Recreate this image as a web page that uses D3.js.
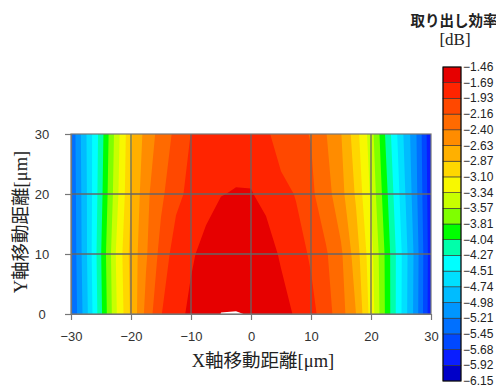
<!DOCTYPE html>
<html>
<head>
<meta charset="utf-8">
<script src="https://cdnjs.cloudflare.com/ajax/libs/d3/7.8.5/d3.min.js"></script>
<style>
  body { margin: 0; background: #fff; }
  text { font-family: "Liberation Sans", Arial, sans-serif; }
</style>
</head>
<body>
<div id="chart"></div>
<script>
// grid of the measurement (x step 2.5 um, y step 10 um)
const xs = [-30, -27.5, -25, -22.5, -20, -17.5, -15, -12.5, -10, -7.5, -5, -2.5, 0,
            2.5, 5, 7.5, 10, 12.5, 15, 17.5, 20, 22.5, 25, 27.5, 30];
const ys = [0, 10, 20, 30];

// extraction efficiency [dB], one row per y
const row0  = [-5.47, -4.83, -4.09, -3.37, -2.83, -2.33, -1.94, -1.77, -1.64, -1.56, -1.457, -1.456, -1.464,
               -1.53, -1.61, -1.715, -1.857, -2.053, -2.305, -2.63, -3.194, -3.861, -4.49, -5.10, -5.85];
const row10 = [-5.44, -4.79, -4.05, -3.33, -2.79, -2.43, -2.08, -1.82, -1.72, -1.62, -1.57, -1.54, -1.555,
               -1.60, -1.715, -1.832, -1.961, -2.133, -2.362, -2.75, -3.253, -3.87, -4.48, -5.08, -5.84];
const row20 = [-5.42, -4.78, -4.11, -3.43, -2.87, -2.46, -2.21, -1.99, -1.87, -1.766, -1.695, -1.68, -1.68,
               -1.7425, -1.85, -1.944, -2.113, -2.304, -2.55, -2.903, -3.378, -3.972, -4.573, -5.15, -5.86];
const row30 = [-5.40, -4.76, -4.148, -3.48, -2.90, -2.544, -2.308, -2.099, -1.925, -1.85, -1.80, -1.77, -1.79,
               -1.88, -2.06, -2.11, -2.17, -2.39, -2.62, -3.005, -3.462, -4.08, -4.656, -5.189, -5.88];

// contour levels (bottom to top) and band colours
const levels = [-6.15, -5.92, -5.68, -5.45, -5.21, -4.98, -4.74, -4.51, -4.27, -4.04, -3.81,
                -3.57, -3.34, -3.10, -2.87, -2.63, -2.40, -2.16, -1.93, -1.69, -1.46];
const colors = ["#0000c8", "#0a1eff", "#0048ff", "#0070ff", "#0096ff", "#00bcff", "#00e0ff",
                "#00ffff", "#00ffaa", "#00ff00", "#7fff00", "#c8ff00", "#f8f800", "#ffd700",
                "#ffb000", "#ff8c00", "#ff6a00", "#ff4800", "#ff2400", "#e60000"];

const xTicks = [-30, -20, -10, 0, 10, 20, 30];
const yTicks = [0, 10, 20, 30];

const W = 496, H = 389;
const plot = { left: 71, top: 134, width: 360, height: 180 };

const svg = d3.select("#chart").append("svg")
  .attr("width", W)
  .attr("height", H);

const x = d3.scaleLinear().domain([-30, 30]).range([plot.left, plot.left + plot.width]);
const y = d3.scaleLinear().domain([0, 30]).range([plot.top + plot.height, plot.top]);

svg.append("clipPath").attr("id", "clip")
  .append("rect")
  .attr("x", plot.left).attr("y", plot.top)
  .attr("width", plot.width).attr("height", plot.height);

// filled contours
const values = [].concat(row0, row10, row20, row30);
const gx = d3.scaleLinear().domain([0.5, xs.length - 0.5]).range([xs[0], xs[xs.length - 1]]);
const gy = d3.scaleLinear().domain([0.5, ys.length - 0.5]).range([ys[0], ys[ys.length - 1]]);
const proj = d3.geoTransform({
  point: function(px, py) { this.stream.point(x(gx(px)), y(gy(py))); }
});
const path = d3.geoPath(proj);

const contours = d3.contours()
  .size([xs.length, ys.length])
  .thresholds(levels)(values);

svg.append("g")
  .attr("clip-path", "url(#clip)")
  .selectAll("path")
  .data(contours)
  .enter().append("path")
  .attr("d", path)
  .attr("fill", (d, i) => i < colors.length ? colors[i] : "#ffffff");

// grid
const grid = svg.append("g").attr("stroke", "#666").attr("stroke-width", 1.3);
grid.selectAll(".gx").data(xTicks.slice(1, -1)).enter().append("line")
  .attr("x1", d => x(d)).attr("x2", d => x(d))
  .attr("y1", y(0)).attr("y2", y(30));
grid.selectAll(".gy").data(yTicks.slice(1, -1)).enter().append("line")
  .attr("x1", x(-30)).attr("x2", x(30))
  .attr("y1", d => y(d)).attr("y2", d => y(d));

svg.append("rect")
  .attr("x", plot.left).attr("y", plot.top)
  .attr("width", plot.width).attr("height", plot.height)
  .attr("fill", "none").attr("stroke", "#777").attr("stroke-width", 1.2);

// axes
const xAxis = svg.append("g")
  .attr("transform", `translate(0,${plot.top + plot.height})`)
  .call(d3.axisBottom(x).tickValues(xTicks).tickSize(6).tickSizeOuter(0).tickPadding(12));
const yAxis = svg.append("g")
  .attr("transform", `translate(${plot.left},0)`)
  .call(d3.axisLeft(y).tickValues(yTicks).tickSize(6).tickSizeOuter(0));

[xAxis, yAxis].forEach(g => {
  g.selectAll("path,line").attr("stroke", "#777").attr("stroke-width", 1.2);
  g.selectAll("text").attr("fill", "#333").style("font-size", "13px")
    .style("font-family", '"Liberation Sans", Arial, sans-serif');
});
yAxis.selectAll("text").attr("text-anchor", "middle").attr("x", -29);

// axis titles
svg.append("text")
  .attr("x", 263).attr("y", 361)
  .attr("text-anchor", "middle").attr("dominant-baseline", "central")
  .style("font-family", '"Liberation Serif", "Noto Sans CJK JP", serif')
  .style("font-size", "18.5px").attr("fill", "#222")
  .text("X軸移動距離[μm]");

svg.append("text")
  .attr("transform", "translate(21,222) rotate(-90)")
  .attr("text-anchor", "middle").attr("dominant-baseline", "central")
  .style("font-family", '"Liberation Serif", "Noto Sans CJK JP", serif')
  .style("font-size", "18.5px").attr("fill", "#222")
  .text("Y軸移動距離[μm]");

// colour bar
const cb = d3.scalePoint().domain(levels).range([381, 67]);
const cbar = svg.append("g");
cbar.selectAll("rect")
  .data(colors)
  .enter().append("rect")
  .attr("x", 443).attr("width", 18)
  .attr("y", (d, i) => cb(levels[i + 1]))
  .attr("height", (d, i) => cb(levels[i]) - cb(levels[i + 1]))
  .attr("fill", d => d)
  .attr("stroke", "#333").attr("stroke-width", 0.6);
cbar.append("rect")
  .attr("x", 443).attr("y", cb(levels[levels.length - 1]))
  .attr("width", 18).attr("height", cb(levels[0]) - cb(levels[levels.length - 1]))
  .attr("fill", "none").attr("stroke", "#000").attr("stroke-width", 1);

const fmt = d3.format(".2f");
cbar.selectAll("text")
  .data(levels)
  .enter().append("text")
  .attr("x", 463).attr("y", d => cb(d))
  .attr("dominant-baseline", "central")
  .style("font-size", "12px").attr("fill", "#222")
  .text(d => fmt(d));

svg.append("text")
  .attr("x", 454).attr("y", 19)
  .attr("text-anchor", "middle").attr("dominant-baseline", "central")
  .style("font-family", '"Noto Sans CJK JP", sans-serif')
  .style("font-size", "14.5px").style("font-weight", "bold").attr("fill", "#222")
  .text("取り出し効率");
svg.append("text")
  .attr("x", 455).attr("y", 39)
  .attr("text-anchor", "middle").attr("dominant-baseline", "central")
  .style("font-family", '"Liberation Serif", serif')
  .style("font-size", "17px").attr("fill", "#222")
  .text("[dB]");
</script>
</body>
</html>
